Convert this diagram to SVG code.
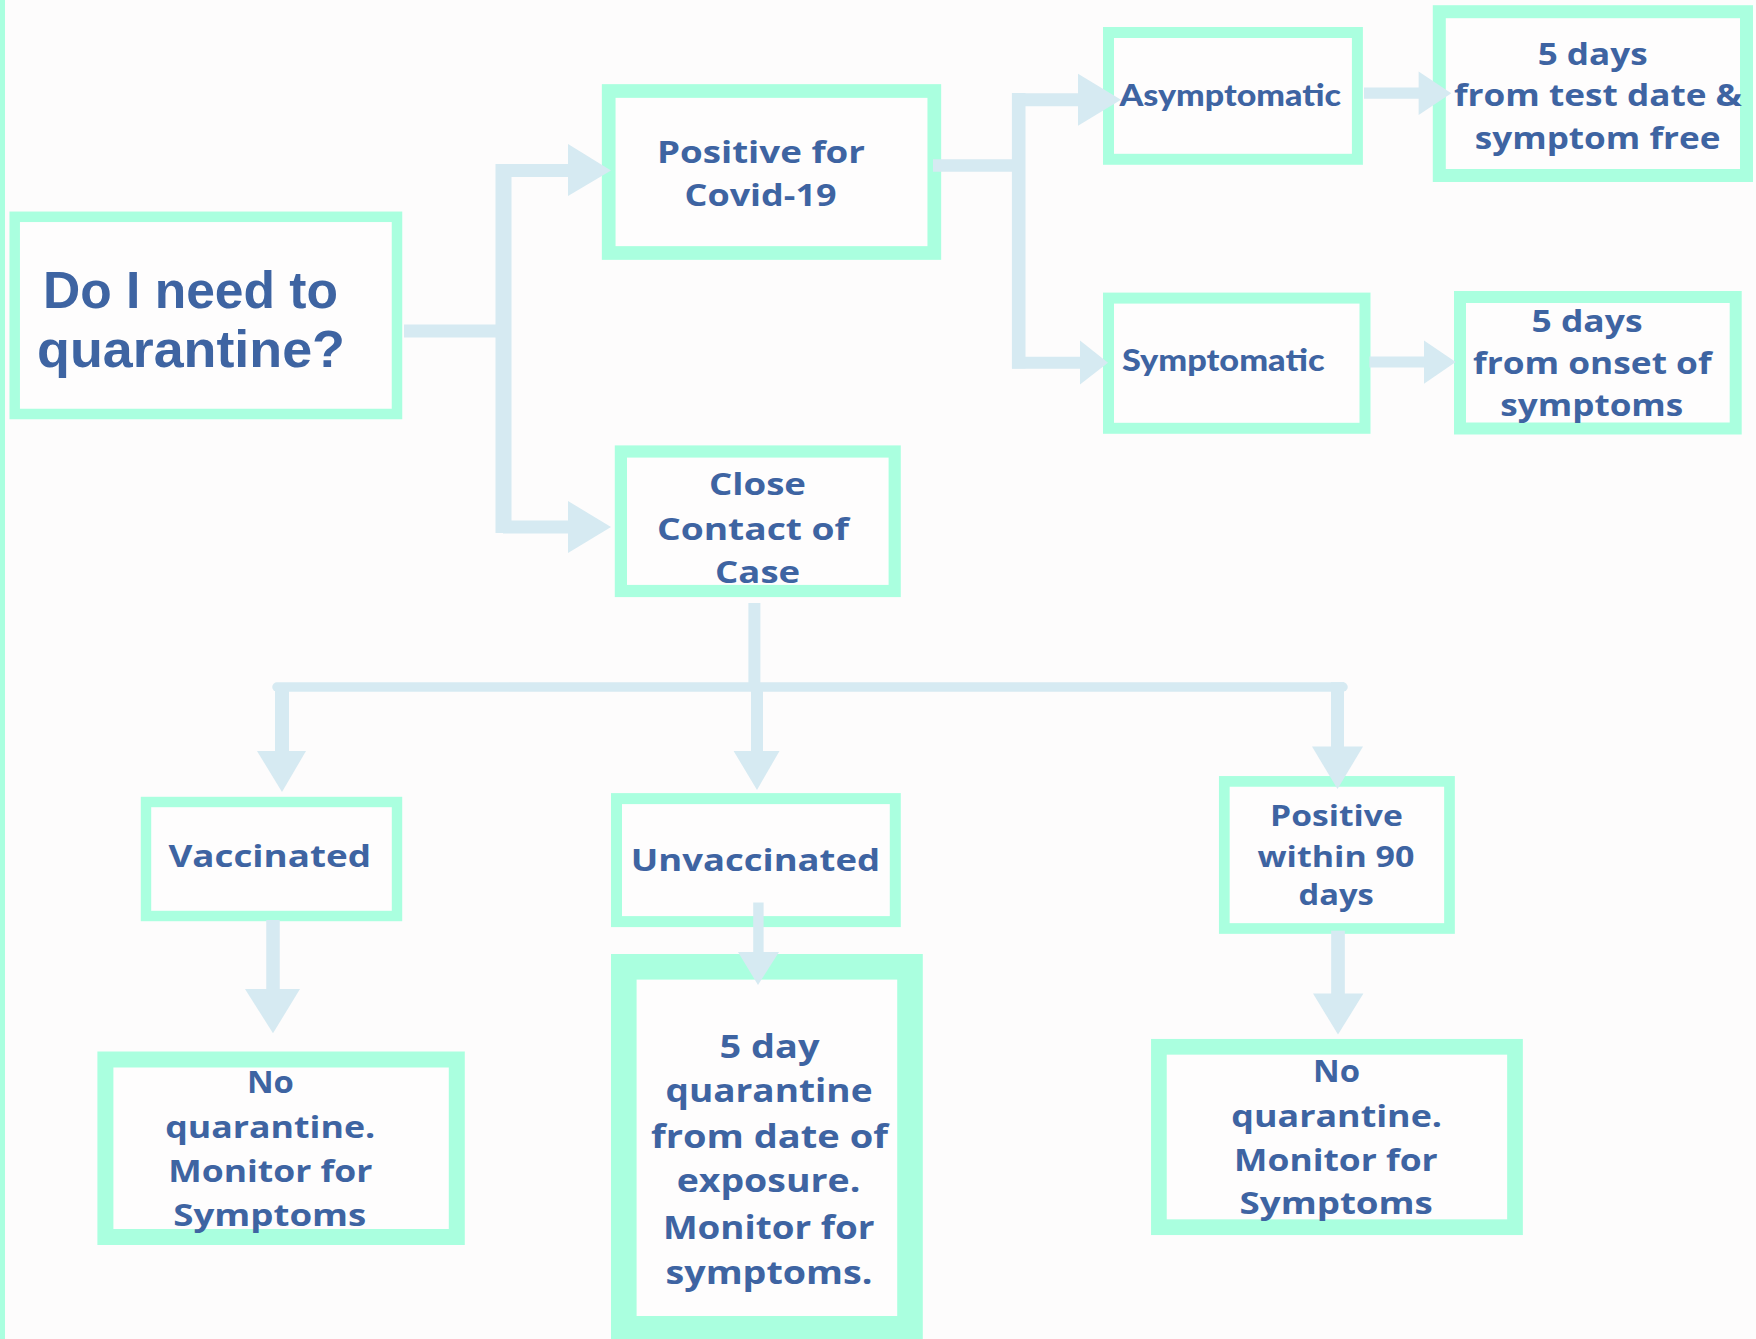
<svg xmlns="http://www.w3.org/2000/svg" width="1756" height="1339" viewBox="0 0 1756 1339">
<style>
.box{fill:#fefdfd;stroke:#aaffdf}
.t{font-family:"Open Sans","Noto Sans",sans-serif;font-weight:700;fill:#3e64a2;text-anchor:middle}
.h{font-family:Lato,"Open Sans",sans-serif;font-weight:900;fill:#3e64a2}
.ti{font-family:"Liberation Sans Narrow","Liberation Sans",Arial,sans-serif;font-weight:700;fill:#3e64a2}
.c{fill:none;stroke:#d6eaf2}
.a{fill:#d6eaf2}
</style>
<rect x="0" y="0" width="1756" height="1339" fill="#fdfcfc"/>
<rect x="0" y="0" width="5" height="1339" fill="#aaffdf"/>

<g id="n-main">
<rect class="box" x="14.7" y="216.8" width="382.3" height="197.2" stroke-width="10.5"/>
<text class="ti" x="43" y="308" font-size="52" textLength="295" lengthAdjust="spacingAndGlyphs">Do I need to</text>
<text class="ti" x="37" y="367" font-size="52" textLength="308" lengthAdjust="spacingAndGlyphs">quarantine?</text>
</g>
<g id="n-positive">
<rect class="box" x="608.7" y="91" width="325.6" height="162" stroke-width="13.7"/>
<text class="t" x="761" y="162.6" font-size="31" textLength="208" lengthAdjust="spacingAndGlyphs">Positive for</text>
<text class="t" x="760.5" y="206" font-size="31" textLength="152" lengthAdjust="spacingAndGlyphs">Covid-19</text>
</g>
<g id="n-close">
<rect class="box" x="620.9" y="451.5" width="273.8" height="139.5" stroke-width="12.2"/>
<text class="t" x="757.5" y="495.2" font-size="30" textLength="97" lengthAdjust="spacingAndGlyphs">Close</text>
<text class="t" x="753" y="540" font-size="30" textLength="192" lengthAdjust="spacingAndGlyphs">Contact of</text>
<text class="t" x="757.6" y="583" font-size="30" textLength="85" lengthAdjust="spacingAndGlyphs">Case</text>
</g>
<g id="n-asym">
<rect class="box" x="1108.5" y="32.5" width="248.9" height="126.8" stroke-width="11"/>
<text class="h" x="1119.4" y="106.2" font-size="31" textLength="221.6" lengthAdjust="spacingAndGlyphs">Asymptomatic</text>
</g>
<g id="n-5days-test">
<rect class="box" x="1439.3" y="11.7" width="307.2" height="163.8" stroke-width="13"/>
<text class="t" x="1592.7" y="65" font-size="30" textLength="110" lengthAdjust="spacingAndGlyphs">5 days</text>
<text class="t" x="1598" y="106.2" font-size="30" textLength="288" lengthAdjust="spacingAndGlyphs">from test date &amp;</text>
<text class="t" x="1597.6" y="148.7" font-size="30" textLength="245.6" lengthAdjust="spacingAndGlyphs">symptom free</text>
</g>
<g id="n-sym">
<rect class="box" x="1108.5" y="298.1" width="256.5" height="130.2" stroke-width="11"/>
<text class="h" x="1122" y="370.8" font-size="31" textLength="202.5" lengthAdjust="spacingAndGlyphs">Symptomatic</text>
</g>
<g id="n-5days-onset">
<rect class="box" x="1460" y="297" width="275.7" height="131.5" stroke-width="12"/>
<text class="t" x="1587" y="331.7" font-size="30" textLength="111" lengthAdjust="spacingAndGlyphs">5 days</text>
<text class="t" x="1592.3" y="373.8" font-size="30" textLength="238.6" lengthAdjust="spacingAndGlyphs">from onset of</text>
<text class="t" x="1591.8" y="416.3" font-size="30" textLength="183" lengthAdjust="spacingAndGlyphs">symptoms</text>
</g>
<g id="n-vacc">
<rect class="box" x="146" y="802" width="251" height="114" stroke-width="10.4"/>
<text class="t" x="269.7" y="867" font-size="30" textLength="202.6" lengthAdjust="spacingAndGlyphs">Vaccinated</text>
</g>
<g id="n-unvacc">
<rect class="box" x="616.5" y="798.6" width="278.8" height="123" stroke-width="11"/>
<text class="t" x="755.4" y="871.3" font-size="30" textLength="249.3" lengthAdjust="spacingAndGlyphs">Unvaccinated</text>
</g>
<g id="n-pos90">
<rect class="box" x="1224.3" y="781.4" width="225.2" height="147.1" stroke-width="10.7"/>
<text class="t" x="1336.4" y="825.9" font-size="29" textLength="132.7" lengthAdjust="spacingAndGlyphs">Positive</text>
<text class="t" x="1336" y="867" font-size="29" textLength="157" lengthAdjust="spacingAndGlyphs">within 90</text>
<text class="t" x="1336.2" y="904.7" font-size="29" textLength="75.3" lengthAdjust="spacingAndGlyphs">days</text>
</g>
<g id="n-noq-left">
<rect class="box" x="105.4" y="1059.5" width="351.4" height="177.5" stroke-width="16"/>
<text class="t" x="270.4" y="1093" font-size="30" textLength="47" lengthAdjust="spacingAndGlyphs">No</text>
<text class="t" x="270.2" y="1137.7" font-size="30" textLength="210" lengthAdjust="spacingAndGlyphs">quarantine.</text>
<text class="t" x="270.3" y="1181.9" font-size="30" textLength="204" lengthAdjust="spacingAndGlyphs">Monitor for</text>
<text class="t" x="269.8" y="1226" font-size="30" textLength="193" lengthAdjust="spacingAndGlyphs">Symptoms</text>
</g>
<g id="n-5day-q">
<rect class="box" x="623.8" y="966.8" width="286.2" height="362" stroke-width="25.6"/>
<text class="t" x="769.5" y="1057.6" font-size="32" textLength="100" lengthAdjust="spacingAndGlyphs">5 day</text>
<text class="t" x="769" y="1101.7" font-size="32" textLength="207" lengthAdjust="spacingAndGlyphs">quarantine</text>
<text class="t" x="769.5" y="1148" font-size="32" textLength="237" lengthAdjust="spacingAndGlyphs">from date of</text>
<text class="t" x="768.5" y="1191.8" font-size="32" textLength="183.7" lengthAdjust="spacingAndGlyphs">exposure.</text>
<text class="t" x="768.7" y="1239" font-size="32" textLength="211.5" lengthAdjust="spacingAndGlyphs">Monitor for</text>
<text class="t" x="769" y="1283.6" font-size="32" textLength="207" lengthAdjust="spacingAndGlyphs">symptoms.</text>
</g>
<g id="n-noq-right">
<rect class="box" x="1158.9" y="1046.8" width="356.1" height="180.4" stroke-width="15.7"/>
<text class="t" x="1336.5" y="1082.3" font-size="30" textLength="47" lengthAdjust="spacingAndGlyphs">No</text>
<text class="t" x="1336.7" y="1126.9" font-size="30" textLength="210.7" lengthAdjust="spacingAndGlyphs">quarantine.</text>
<text class="t" x="1335.9" y="1171" font-size="30" textLength="203.6" lengthAdjust="spacingAndGlyphs">Monitor for</text>
<text class="t" x="1336.2" y="1214.4" font-size="30" textLength="193.3" lengthAdjust="spacingAndGlyphs">Symptoms</text>
</g>

<g id="connectors">
<path class="c" d="M404,331 H503" stroke-width="13"/>
<path class="c" d="M503.5,164 V533" stroke-width="16"/>
<path class="c" d="M503,170.5 H570" stroke-width="13"/>
<polygon class="a" points="568,144 611,170.5 568,196"/>
<path class="c" d="M503,527 H570" stroke-width="13"/>
<polygon class="a" points="568,501 611,527 568,553"/>

<path class="c" d="M933,165.5 H1019" stroke-width="12.5"/>
<path class="c" d="M1018.7,93 V368.6" stroke-width="13.6"/>
<path class="c" d="M1012,99.7 H1080" stroke-width="13"/>
<polygon class="a" points="1078,73.7 1121,99.7 1078,125.8"/>
<path class="c" d="M1012,362.8 H1082" stroke-width="12"/>
<polygon class="a" points="1080,340.4 1108,362.8 1080,384.6"/>

<path class="c" d="M1364,93.2 H1420" stroke-width="11.3"/>
<polygon class="a" points="1418.6,71.6 1451.3,93.2 1418.6,115"/>
<path class="c" d="M1369.4,362 H1426" stroke-width="11.2"/>
<polygon class="a" points="1424,340.4 1455.7,362 1424,383.8"/>

<path class="c" d="M754.4,603 V684" stroke-width="12"/>
<path class="c" d="M277,687 H1343" stroke-width="9.5" stroke-linecap="round"/>
<path class="c" d="M1337.5,682.3 V748" stroke-width="13"/>
<path class="c" d="M282,684 V752" stroke-width="14"/>
<polygon class="a" points="257,751 306,751 282,792"/>
<path class="c" d="M757,687 V752" stroke-width="12"/>
<polygon class="a" points="733.6,751 779.5,751 757,790"/>
<polygon class="a" points="1312,746.6 1363,746.6 1337.5,789"/>

<path class="c" d="M273,920 V990" stroke-width="13.5"/>
<polygon class="a" points="245,989 300,989 273,1033.3"/>
<path class="c" d="M758.4,902.5 V953" stroke-width="10.4"/>
<polygon class="a" points="738,952 779,952 758,985"/>
<path class="c" d="M1338,930.7 V994" stroke-width="13.7"/>
<polygon class="a" points="1313,993.5 1363.4,993.5 1338,1034.6"/>
</g>
</svg>
